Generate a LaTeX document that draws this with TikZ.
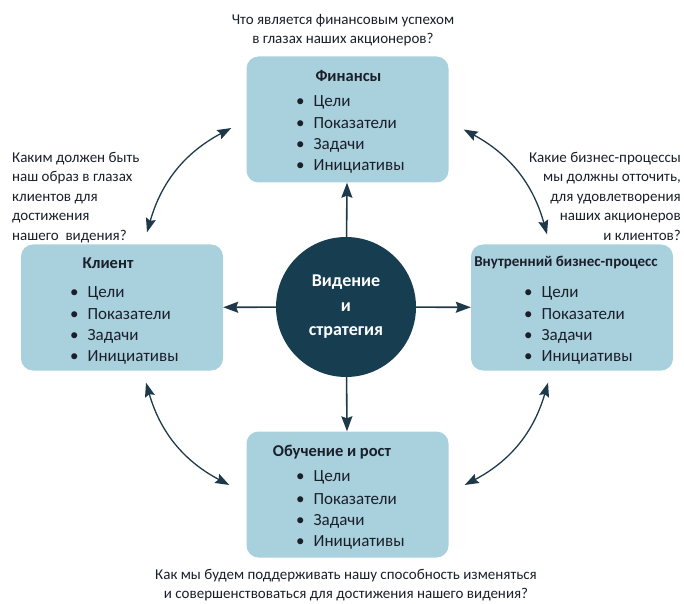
\documentclass[tikz,border=0pt]{standalone}
\usepackage{fontspec}
\setmainfont{Carlito}
\usetikzlibrary{arrows.meta}
\definecolor{boxblue}{HTML}{A9D0DD}
\definecolor{visnavy}{HTML}{173D50}
\definecolor{arrowc}{HTML}{1E3A4A}
\definecolor{inkc}{HTML}{1A1F2A}
\begin{document}
\begin{tikzpicture}[x=1pt,y=1pt,
  box/.style={fill=boxblue,rounded corners=12pt,minimum width=202pt,minimum height=126pt,inner sep=0pt},
  ttl/.style={text=inkc,font=\bfseries\fontsize{16.5}{18}\selectfont},
  itm/.style={text=inkc,anchor=west,inner sep=0pt,font=\fontsize{17}{20}\selectfont},
  ask/.style={text=inkc,inner sep=0pt,font=\fontsize{15}{19.5}\selectfont},
  link/.style={arrowc,line width=1.6pt,-{Stealth[length=15pt,width=11pt,inset=2pt]}},
  twoway/.style={arrowc,line width=1.3pt,{Stealth[length=14pt,width=10pt,inset=2pt]}-{Stealth[length=14pt,width=10pt,inset=2pt]}}]
  \useasboundingbox (0,0) rectangle (684,603);
  \node[box] (fin) at (347.5,483.5) {};
  \node[box] (cli) at (122,295.5) {};
  \node[box] (bus) at (572,295.5) {};
  \node[box] (edu) at (347.5,108.5) {};
  \node[circle,fill=visnavy,minimum size=140pt,inner sep=0pt,text=white,align=center,
    font=\bfseries\fontsize{18}{24.5}\selectfont] (vis) at (346,296) {Видение\\и\\стратегия};
  \node[ttl] (fint) at (348.5,527) {Финансы};
  \node[ttl] (clit) at (108,340) {Клиент};
  \node[ttl,font=\bfseries\fontsize{15}{18}\selectfont] (bust) at (566,340) {Внутренний бизнес-процесс};
  \node[ttl] (edut) at (332,151) {Обучение и рост};
  \foreach \t [count=\i] in {Цели,Показатели,Задачи,Инициативы}{
    \node[itm] (fin\i) at (296,522.5-21.5*\i) {\textbullet\hspace{9pt}\t};
    \node[itm] (cli\i) at (70,331.5-21.5*\i) {\textbullet\hspace{9pt}\t};
    \node[itm] (bus\i) at (524,331.5-21.5*\i) {\textbullet\hspace{9pt}\t};
    \node[itm] (edu\i) at (296,147-21.7*\i) {\textbullet\hspace{9pt}\t};
  }
  \node[ask,align=center] (qfin) at (343,573) {Что является финансовым успехом\\в глазах наших акционеров?};
  \node[ask,align=left,anchor=north west] (qcli) at (12,451) {Каким должен быть\\наш образ в глазах\\клиентов для\\достижения\\нашего\ \ видения?};
  \node[ask,align=right,anchor=north east] (qbus) at (681,451) {Какие бизнес-процессы\\мы должны отточить,\\для удовлетворения\\наших акционеров\\и клиентов?};
  \node[ask,align=center] (qedu) at (346,18) {Как мы будем поддерживать нашу способность изменяться\\и совершенствоваться для достижения нашего видения?};
  \draw[link] (vis) -- (fin);
  \draw[link] (vis) -- (cli);
  \draw[link] (vis) -- (bus);
  \draw[link] (vis) -- (edu);
  \draw[twoway] ([shift={(25,12)}]cli.north) to[bend left=23] ([shift={(-15,-8.5)}]fin.west);
  \draw[twoway] ([shift={(15,-10)}]fin.east) to[bend left=23] ([shift={(-25,10)}]bus.north);
  \draw[twoway] ([shift={(-24,-12)}]bus.south) to[bend left=23] ([shift={(16,9.5)}]edu.east);
  \draw[twoway] ([shift={(-17,9.5)}]edu.west) to[bend left=23] ([shift={(24,-12)}]cli.south);
\end{tikzpicture}
\end{document}
